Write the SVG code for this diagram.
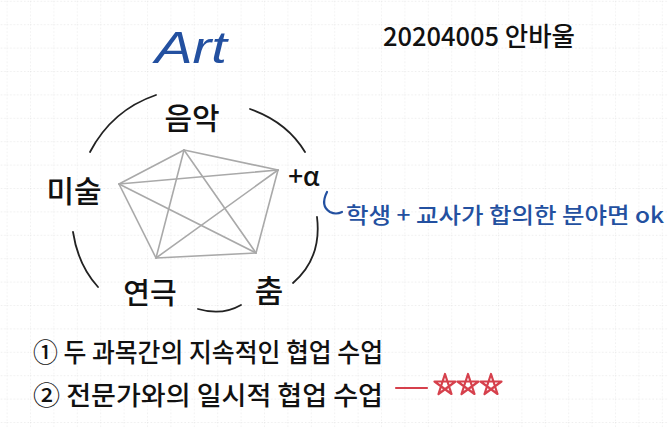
<svg xmlns="http://www.w3.org/2000/svg" width="668" height="427" viewBox="0 0 668 427">
  <defs>
    <pattern id="grid" x="6.6" y="0.8" width="23.4" height="23.4" patternUnits="userSpaceOnUse">
      <line x1="0" y1="0" x2="23.4" y2="0" stroke="#dcdcdc" stroke-width="1" stroke-dasharray="1.5 2"/>
      <line x1="0" y1="0" x2="0" y2="23.4" stroke="#e4e4e4" stroke-width="1" stroke-dasharray="1.5 2"/>
    </pattern>
    <path id="star" d="M0,-11 L6.5,9 L-10.5,-3.5 L10.5,-3.5 L-6.5,9 Z"/>
  </defs>
  <style>
    .hw { font-family: "Noto Sans CJK KR", "Noto Sans", sans-serif; fill: #111; font-weight: 500; }
    .blue { fill: #2350a0; }
    .edge { stroke: #a9a9a9; stroke-width: 1.6; fill: none; stroke-linecap: round; }
    .arc { stroke: #222; stroke-width: 1.8; fill: none; stroke-linecap: round; }
    .red { stroke: #d6404c; stroke-width: 2.2; fill: none; stroke-linecap: round; stroke-linejoin: round; }
  </style>
  <rect width="668" height="427" fill="#ffffff"/>
  <rect width="668" height="427" fill="url(#grid)"/>

  <g id="title">
    <text x="155" y="63" font-family="Liberation Sans, sans-serif" font-style="italic" font-size="44" fill="#2350a0" textLength="72" lengthAdjust="spacingAndGlyphs">Art</text>
  </g>
  <g id="author">
    <text class="hw" x="383" y="46" font-size="26" textLength="192" lengthAdjust="spacingAndGlyphs">20204005 안바울</text>
  </g>

  <g id="connectors">
    <line class="edge" x1="184" y1="150" x2="278" y2="170"/>
    <line class="edge" x1="184" y1="150" x2="119" y2="184"/>
    <line class="edge" x1="119" y1="184" x2="156" y2="258"/>
    <line class="edge" x1="156" y1="258" x2="256" y2="253"/>
    <line class="edge" x1="256" y1="253" x2="278" y2="170"/>
    <line class="edge" x1="184" y1="150" x2="156" y2="258"/>
    <line class="edge" x1="184" y1="150" x2="256" y2="253"/>
    <line class="edge" x1="119" y1="184" x2="278" y2="170"/>
    <line class="edge" x1="119" y1="184" x2="256" y2="253"/>
    <line class="edge" x1="278" y1="170" x2="156" y2="258"/>
  </g>

  <g id="ring">
    <path class="arc" d="M90,152 Q112,110 156,95"/>
    <path class="arc" d="M250,109 Q287,122 305,152"/>
    <path class="arc" d="M317,217 Q322,258 293,283"/>
    <path class="arc" d="M198,309 Q222,316 241,305"/>
    <path class="arc" d="M73,232 Q78,265 98,287"/>
  </g>

  <g id="node-music">
    <text class="hw" x="192" y="129" font-size="30" text-anchor="middle">음악</text>
  </g>
  <g id="node-art">
    <text class="hw" x="74" y="202" font-size="30" text-anchor="middle">미술</text>
  </g>
  <g id="node-alpha">
    <text class="hw" x="304" y="186" font-size="26" text-anchor="middle">+α</text>
  </g>
  <g id="node-drama">
    <text class="hw" x="150" y="304" font-size="29" text-anchor="middle">연극</text>
  </g>
  <g id="node-dance">
    <text class="hw" x="269" y="302" font-size="31" text-anchor="middle">춤</text>
  </g>

  <g id="note">
    <path d="M327,192 Q320,206 330,212 Q336,215 342,212" stroke="#2350a0" stroke-width="2.2" fill="none" stroke-linecap="round"/>
    <text class="hw blue" x="346" y="223" font-size="22" textLength="318" lengthAdjust="spacingAndGlyphs">학생 + 교사가 합의한 분야면 ok</text>
  </g>

  <g id="list">
    <text class="hw" x="33" y="362" font-size="26" textLength="350" lengthAdjust="spacingAndGlyphs">① 두 과목간의 지속적인 협업 수업</text>
    <text class="hw" x="33" y="405" font-size="26" textLength="350" lengthAdjust="spacingAndGlyphs">② 전문가와의 일시적 협업 수업</text>
  </g>

  <g id="rating">
    <line class="red" x1="396" y1="388" x2="427" y2="388"/>
    <use href="#star" class="red" x="445" y="385"/>
    <use href="#star" class="red" x="468" y="385"/>
    <use href="#star" class="red" x="491" y="385"/>
  </g>
</svg>
